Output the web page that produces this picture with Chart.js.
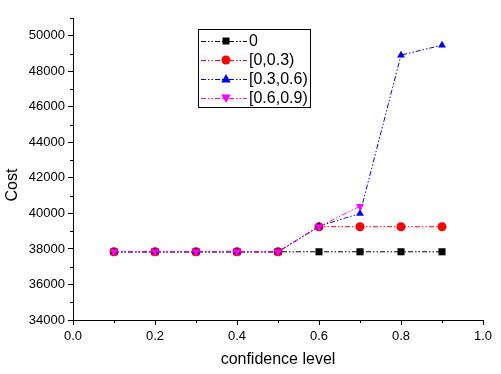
<!DOCTYPE html>
<html>
<head>
<meta charset="utf-8">
<script src="https://cdn.jsdelivr.net/npm/chart.js"></script>
<style>
  html, body { margin: 0; padding: 0; background: #fff; }
  #wrap { width: 501px; height: 374px; }
</style>
</head>
<body>
<div id="wrap"><canvas id="costChart" width="501" height="374"></canvas></div>
<script>
// Data
const confidence = [0.1, 0.2, 0.3, 0.4, 0.5, 0.6, 0.7, 0.8, 0.9];
const seriesNames = ['0', '[0,0.3)', '[0.3,0.6)', '[0.6,0.9)'];
const cost0 = [37840, 37840, 37840, 37840, 37840, 37840, 37840, 37840, 37840];
const cost03 = [37840, 37840, 37840, 37840, 37840, 39250, 39250, 39250, 39250];
const cost36 = [37840, 37840, 37840, 37840, 37840, 39280, 40000, 48910, 49470];
const cost69 = [37840, 37840, 37840, 37840, 37840, 39250, 40410];
const yTicks = [34000, 36000, 38000, 40000, 42000, 44000, 46000, 48000, 50000];
const xTicks = [0, 0.2, 0.4, 0.6, 0.8, 1.0];

const FONT = '"Liberation Sans", Arial, sans-serif';
const dashDotDot = [5, 2, 1.5, 2, 1.5, 2];

function toPoints(vals) {
    return vals.map((v, i) => ({ x: confidence[i], y: v }));
}

function makeSet(label, vals, color, style, rot, order) {
    return {
        label: label,
        data: toPoints(vals),
        showLine: true,
        borderColor: color,
        backgroundColor: color,
        borderWidth: 1,
        borderDash: dashDotDot,
        pointStyle: style,
        rotation: rot,
        pointRadius: style === 'rect' ? 5 : 4.5,
        pointBorderWidth: 0,
        pointBackgroundColor: color,
        order: order
    };
}

const sets = [
    makeSet(seriesNames[0], cost0, '#000000', 'rect', 0, 4),
    makeSet(seriesNames[1], cost03, '#ff0000', 'circle', 0, 3),
    makeSet(seriesNames[2], cost36, '#0000ff', 'triangle', 0, 2),
    makeSet(seriesNames[3], cost69, '#ff00ff', 'triangle', 180, 1)
];

// Draws a marker like the series use
function marker(ctx, style, rot, x, y, color) {
    ctx.save();
    ctx.fillStyle = color;
    ctx.beginPath();
    if (style === 'rect') {
        ctx.rect(x - 3.5, y - 3.5, 7, 7);
    } else if (style === 'circle') {
        ctx.arc(x, y, 4.5, 0, Math.PI * 2);
    } else {
        const d = rot === 180 ? -1 : 1;
        ctx.moveTo(x, y - 5 * d);
        ctx.lineTo(x + 4.8, y + 3.5 * d);
        ctx.lineTo(x - 4.8, y + 3.5 * d);
        ctx.closePath();
    }
    ctx.fill();
    ctx.restore();
}

// Minor ticks, axis titles and the boxed legend
const extras = {
    id: 'extras',
    afterDraw(chart) {
        const ctx = chart.ctx;
        const xs = chart.scales.x, ys = chart.scales.y;
        const area = chart.chartArea;
        ctx.save();
        ctx.strokeStyle = '#000';
        ctx.lineWidth = 1;
        ctx.beginPath();
        for (let v = 35000; v <= 51000; v += 2000) {
            const py = Math.round(ys.getPixelForValue(v)) + 0.5;
            ctx.moveTo(area.left, py);
            ctx.lineTo(area.left - 3, py);
        }
        for (let v = 0.1; v < 1; v += 0.2) {
            const px = Math.round(xs.getPixelForValue(v)) + 0.5;
            ctx.moveTo(px, area.bottom);
            ctx.lineTo(px, area.bottom + 3);
        }
        ctx.stroke();

        // axis titles
        ctx.fillStyle = '#000';
        ctx.font = '16px ' + FONT;
        ctx.textAlign = 'center';
        ctx.textBaseline = 'middle';
        ctx.fillText('confidence level', (area.left + area.right) / 2, 360);
        ctx.save();
        ctx.translate(13, 185);
        ctx.rotate(-Math.PI / 2);
        ctx.fillText('Cost', 0, 0);
        ctx.restore();

        // legend
        const bx = 198.5, by = 29.5, bw = 112, bh = 78;
        ctx.fillStyle = '#fff';
        ctx.fillRect(bx, by, bw, bh);
        ctx.strokeRect(bx, by, bw, bh);
        chart.data.datasets.forEach((ds, i) => {
            const ry = 41 + i * 19;
            ctx.save();
            ctx.strokeStyle = ds.borderColor;
            ctx.setLineDash(ds.borderDash);
            ctx.beginPath();
            ctx.moveTo(201, ry + 0.5);
            ctx.lineTo(247, ry + 0.5);
            ctx.stroke();
            ctx.restore();
            marker(ctx, ds.pointStyle, ds.rotation, 226, ry, ds.borderColor);
            ctx.fillStyle = '#000';
            ctx.font = '16px ' + FONT;
            ctx.textAlign = 'left';
            ctx.textBaseline = 'middle';
            ctx.fillText(ds.label, 249, ry + 1);
        });
        ctx.restore();
    }
};

new Chart(document.getElementById('costChart'), {
    type: 'scatter',
    data: { datasets: sets },
    options: {
        responsive: false,
        animation: false,
        layout: { padding: { top: 18, right: 18, left: 0, bottom: 0 } },
        plugins: { legend: { display: false }, tooltip: { enabled: false } },
        scales: {
            x: {
                type: 'linear',
                min: 0, max: 1,
                afterFit: s => { s.height = 54; },
                afterBuildTicks: s => { s.ticks = xTicks.map(v => ({ value: v })); },
                grid: { drawOnChartArea: false, drawTicks: true, tickLength: 5, tickColor: '#000' },
                border: { display: true, color: '#000', width: 1 },
                ticks: {
                    color: '#000', padding: 4,
                    font: { family: FONT, size: 13 },
                    callback: v => v.toFixed(1)
                }
            },
            y: {
                type: 'linear',
                min: 34000, max: 51000,
                afterFit: s => { s.width = 73; },
                afterBuildTicks: s => { s.ticks = yTicks.map(v => ({ value: v })); },
                grid: { drawOnChartArea: false, drawTicks: true, tickLength: 5, tickColor: '#000' },
                border: { display: true, color: '#000', width: 1 },
                ticks: {
                    color: '#000', padding: 3,
                    font: { family: FONT, size: 13 },
                    callback: v => String(v)
                }
            }
        }
    },
    plugins: [extras]
});
</script>
</body>
</html>
